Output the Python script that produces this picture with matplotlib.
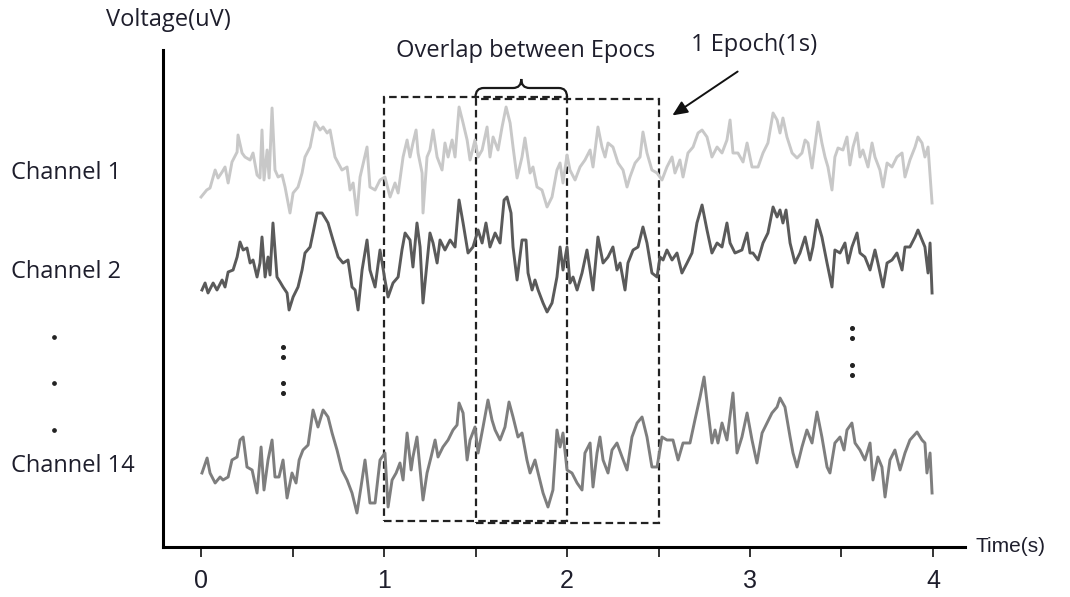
import matplotlib.pyplot as plt
from matplotlib.path import Path
from matplotlib.patches import PathPatch, Rectangle

# time stamps (s) and voltages (uV) of the traced samples, per channel
ch1_t = [0.000, 0.031, 0.049, 0.077, 0.093, 0.115, 0.131, 0.148, 0.169, 0.197,
         0.202, 0.224, 0.240, 0.268, 0.284, 0.306, 0.322, 0.333, 0.344, 0.361,
         0.372, 0.388, 0.404, 0.421, 0.443, 0.459, 0.486, 0.503, 0.530, 0.552,
         0.568, 0.596, 0.623, 0.650, 0.667, 0.689, 0.705, 0.732, 0.770, 0.798,
         0.814, 0.831, 0.852, 0.869, 0.907, 0.923, 0.951, 0.978, 1.005, 1.033,
         1.060, 1.077, 1.104, 1.126, 1.142, 1.158, 1.175, 1.186, 1.208, 1.213,
         1.235, 1.251, 1.268, 1.290, 1.317, 1.333, 1.350, 1.372, 1.388, 1.410,
         1.432, 1.454, 1.470, 1.497, 1.514, 1.536, 1.563, 1.579, 1.596, 1.623,
         1.645, 1.667, 1.689, 1.705, 1.727, 1.754, 1.770, 1.798, 1.814, 1.836,
         1.863, 1.891, 1.918, 1.945, 1.962, 1.978, 2.000, 2.016,
         2.044, 2.071, 2.098, 2.126, 2.142, 2.169, 2.191, 2.208, 2.224, 2.251,
         2.279, 2.306, 2.328, 2.344, 2.372, 2.399, 2.415, 2.437, 2.464, 2.492,
         2.519, 2.546, 2.574, 2.590, 2.617, 2.634, 2.661, 2.689, 2.716, 2.738,
         2.765, 2.792, 2.820, 2.847, 2.874, 2.891, 2.907, 2.934, 2.962, 2.984,
         3.011, 3.044, 3.071, 3.098, 3.126, 3.148, 3.164, 3.180, 3.202, 3.230,
         3.257, 3.284, 3.301, 3.317, 3.339, 3.372, 3.393, 3.410, 3.426, 3.448,
         3.464, 3.481, 3.508, 3.530, 3.546, 3.563, 3.585, 3.601, 3.617, 3.645,
         3.667, 3.683, 3.710, 3.727, 3.749, 3.776, 3.803, 3.831, 3.847, 3.874,
         3.902, 3.918, 3.940, 3.956, 3.973, 3.995]
ch1_uv = [-32, -25, -23, -5, -13, -7, -2, -18, 3, 13,
          30, 12, 8, 5, 12, -10, -13, 35, -15, 15,
          -13, 57, -5, -12, -10, -22, -48, -28, -22, -8,
          8, 18, 43, 35, 38, 32, 35, 8, -5, -2,
          -25, -18, -50, -12, 18, -22, -25, -15, -12, -32,
          -18, -28, 8, 25, 8, 22, 35, 12, -8, -48,
          8, 15, 35, 8, -5, 22, 8, 25, 8, 58,
          42, 25, 5, 25, 8, 15, 38, 8, 28, 15,
          38, 58, 42, 18, -13, 8, 27, -8, -2, -22,
          -25, -42, -32, -5, 2, -18, 10, -5,
          -15, -2, 5, 15, -2, 38, 18, 8, 22, 18,
          2, -5, -22, -12, 2, 8, 33, 12, -5, -8,
          -15, -2, 8, -8, 5, -12, 12, 18, 32, 35,
          28, 8, 18, 12, 25, 45, 12, 12, 3, 22,
          -2, -2, 12, 22, 52, 45, 32, 47, 28, 12,
          7, 12, 25, 22, -3, 43, 22, 8, -2, -25,
          8, 17, 15, 28, 0, 18, 32, 8, 15, -2,
          22, 8, -5, -22, 2, -2, 8, 12, -12, 5,
          18, 28, 22, 8, 18, -38]

ch2_t = [0.005, 0.022, 0.038, 0.066, 0.087, 0.115, 0.131, 0.148, 0.175, 0.197,
         0.213, 0.230, 0.251, 0.268, 0.284, 0.306, 0.322, 0.333, 0.350, 0.366,
         0.377, 0.393, 0.415, 0.432, 0.448, 0.470, 0.481, 0.503, 0.530, 0.552,
         0.568, 0.596, 0.612, 0.634, 0.661, 0.678, 0.694, 0.721, 0.749, 0.776,
         0.803, 0.825, 0.842, 0.858, 0.880, 0.907, 0.923, 0.951, 0.978, 1.005,
         1.022, 1.049, 1.077, 1.098, 1.115, 1.142, 1.158, 1.180, 1.197, 1.213,
         1.235, 1.251, 1.268, 1.290, 1.306, 1.333, 1.361, 1.388, 1.410, 1.432,
         1.459, 1.486, 1.514, 1.536, 1.557, 1.579, 1.607, 1.634, 1.656, 1.672,
         1.694, 1.705, 1.727, 1.754, 1.776, 1.787, 1.809, 1.825, 1.842, 1.869,
         1.891, 1.918, 1.945, 1.962, 1.978, 2.000, 2.016, 2.033, 2.055, 2.082,
         2.109, 2.126, 2.142, 2.169, 2.197, 2.224, 2.251, 2.273, 2.290, 2.317,
         2.333, 2.361, 2.388, 2.415, 2.437, 2.464, 2.492, 2.508, 2.525, 2.546,
         2.574, 2.601, 2.628, 2.656, 2.683, 2.710, 2.738, 2.765, 2.792, 2.820,
         2.847, 2.874, 2.891, 2.918, 2.956, 2.984, 3.000, 3.016, 3.044, 3.071,
         3.098, 3.126, 3.148, 3.164, 3.180, 3.197, 3.219, 3.246, 3.273, 3.301,
         3.328, 3.344, 3.366, 3.393, 3.421, 3.448, 3.464, 3.492, 3.519, 3.536,
         3.557, 3.585, 3.601, 3.628, 3.656, 3.683, 3.699, 3.727, 3.749, 3.776,
         3.803, 3.831, 3.847, 3.874, 3.902, 3.918, 3.940, 3.956, 3.973, 3.984,
         3.995]
ch2_uv = [-25, -18, -28, -18, -25, -15, -22, -7, -5, 8,
          23, 15, 17, 2, 5, -12, 2, 28, -12, 8,
          -10, 42, -12, -17, -22, -28, -45, -32, -22, -5,
          12, 18, 32, 52, 52, 47, 42, 25, 8, 2,
          5, -22, -25, -45, -5, 25, -5, -22, 15, -15,
          -32, -18, -12, 15, 32, 25, -2, 42, 18, -38,
          2, 32, 22, 2, 25, 15, 25, 18, 65, 42,
          12, 18, 35, 22, 42, 18, 32, 22, 65, 68,
          52, 18, -15, 25, 25, -8, -25, -15, -25, -38,
          -47, -38, -12, 18, -5, 18, -18, -12, -25, -8,
          15, -5, -25, 28, 2, 8, 18, -5, 2, -25,
          2, 15, 18, 38, 22, -8, -12, 8, 5, 15,
          5, 12, -8, 2, 12, 42, 60, 35, 12, 22,
          18, 42, 22, 12, 15, 32, 12, 12, 5, 22,
          32, 58, 48, 55, 42, 55, 22, 2, 12, 28,
          5, 18, 45, 28, 2, -22, 15, 12, 22, 2,
          18, 32, 12, 8, -5, 15, 2, -22, 2, 5,
          12, -5, 18, 18, 28, 35, 25, 18, -8, 22,
          -28]

ch14_t = [0.005, 0.033, 0.049, 0.077, 0.104, 0.120, 0.148, 0.169, 0.197, 0.213,
          0.230, 0.251, 0.279, 0.306, 0.328, 0.344, 0.366, 0.388, 0.404, 0.426,
          0.448, 0.470, 0.497, 0.519, 0.536, 0.557, 0.585, 0.612, 0.639, 0.667,
          0.694, 0.716, 0.743, 0.770, 0.798, 0.825, 0.852, 0.874, 0.896, 0.923,
          0.951, 0.978, 1.005, 1.022, 1.044, 1.066, 1.087, 1.104, 1.126, 1.148,
          1.158, 1.180, 1.197, 1.213, 1.235, 1.257, 1.279, 1.295, 1.322, 1.350,
          1.377, 1.399, 1.410, 1.432, 1.454, 1.470, 1.497, 1.514, 1.541, 1.568,
          1.590, 1.607, 1.634, 1.661, 1.683, 1.705, 1.732, 1.754, 1.781, 1.798,
          1.825, 1.842, 1.869, 1.896, 1.923, 1.945, 1.962, 1.978, 2.000, 2.027,
          2.055, 2.082, 2.098, 2.126, 2.142, 2.164, 2.180, 2.197, 2.224, 2.246,
          2.273, 2.301, 2.328, 2.355, 2.383, 2.410, 2.437, 2.464, 2.492, 2.519,
          2.546, 2.579, 2.607, 2.634, 2.672, 2.699, 2.727, 2.749, 2.770, 2.792,
          2.809, 2.825, 2.847, 2.874, 2.907, 2.929, 2.956, 2.984, 3.011, 3.038,
          3.066, 3.093, 3.120, 3.148, 3.164, 3.191, 3.219, 3.235, 3.257, 3.284,
          3.311, 3.339, 3.366, 3.393, 3.421, 3.437, 3.464, 3.492, 3.514, 3.530,
          3.557, 3.574, 3.601, 3.628, 3.656, 3.672, 3.699, 3.721, 3.738, 3.765,
          3.792, 3.820, 3.847, 3.874, 3.913, 3.940, 3.956, 3.967, 3.984, 3.995]
ch14_uv = [-18, -3, -18, -28, -22, -25, -22, -5, -2, 15,
           18, -12, -15, -38, 8, -35, -5, 15, -22, -22,
           -5, -43, -18, -28, -5, 5, 10, 45, 28, 45,
           38, 22, 5, -15, -25, -38, -58, -32, -5, -48,
           -48, -5, 2, -52, -25, -18, -8, -25, 22, -15,
           -2, 18, -15, -45, -18, -2, 15, -2, 8, 15,
           25, 30, 52, 42, -5, 15, 28, 2, 28, 55,
           35, 25, 15, 28, 53, 38, 18, 22, -5, -18,
           -5, -18, -38, -52, -35, 25, 8, 22, -15, -18,
           -28, -35, 2, 12, -32, 2, 18, -5, -18, 5,
           12, -2, -15, 18, 32, 38, 18, -12, -12, 18,
           15, 15, -5, 12, 12, 35, 58, 78, 45, 12,
           25, 12, 32, 15, 62, 2, 18, 42, 15, -8,
           22, 32, 42, 48, 57, 48, 18, 2, -12, 8,
           25, 12, 43, 18, -12, -18, 12, 18, 5, 25,
           32, 12, 5, -5, 12, -25, -2, -12, -42, -5,
           5, -15, 2, 15, 23, 15, 12, -18, 2, -38]

channel_names = ['Channel 1', 'Channel 2', 'Channel 14']
channel_offsets = [382, 282, 92]          # baseline of each trace on the shared axis (uV)
channel_colors = ['#c8c8c8', '#5a5a5a', '#7e7e7e']

epoch_starts = [1.0, 1.5]                 # two 1 s windows, 50 % overlap
epoch_len = 1.0

txt_color = '#1e1e2c'
txt_size = 17
plt.rcParams['font.family'] = ['Open Sans', 'DejaVu Sans']
narrow = ['Liberation Sans Narrow', 'Liberation Sans', 'DejaVu Sans']

fig = plt.figure(figsize=(10.7, 5.97), dpi=100)
ax = fig.add_axes([163 / 1070, 50 / 597, 802 / 1070, 497 / 597])
ax.set_xlim(-0.208, 4.175)
ax.set_ylim(0, 497)

traces = [(ch1_t, ch1_uv), (ch2_t, ch2_uv), (ch14_t, ch14_uv)]
for (t, uv), off, col in zip(traces, channel_offsets, channel_colors):
    ax.plot(t, [v + off for v in uv], color=col, lw=2.1, solid_joinstyle='round')

# epoch windows
box_edges = [(26, 450), (24, 448)]
for start, (lo, hi) in zip(epoch_starts, box_edges):
    ax.add_patch(Rectangle((start, lo), epoch_len, hi - lo, fill=False,
                           ec='#222222', lw=1.6, ls=(0, (3.4, 1.9))))

# curly brace over the overlapping part
a, b = epoch_starts[1], epoch_starts[0] + epoch_len
m, d = (a + b) / 2, 0.045
y0, y1, y2 = 450, 459, 468
verts = [(a, y0), (a, y1), (a + d, y1), (m - d, y1), (m, y1), (m, y2),
         (m, y1), (m + d, y1), (b - d, y1), (b, y1), (b, y0)]
codes = [Path.MOVETO, Path.CURVE3, Path.CURVE3, Path.LINETO, Path.CURVE3, Path.CURVE3,
         Path.CURVE3, Path.CURVE3, Path.LINETO, Path.CURVE3, Path.CURVE3]
ax.add_patch(PathPatch(Path(verts, codes), fill=False, lw=1.6, ec='#1a1a1a',
                       clip_on=False))

ax.text(1.776, 496, 'Overlap between Epocs', ha='center', va='center',
        fontsize=txt_size, color=txt_color)
ax.text(3.022, 502, '1 Epoch(1s)', ha='center', va='center',
        fontsize=txt_size, color=txt_color)
ax.annotate('', xy=(2.563, 430), xytext=(2.945, 477),
            arrowprops=dict(arrowstyle='-|>,head_length=0.9,head_width=0.4',
                            lw=1.4, color='#111111'))

# vertical ellipsis for the channels left out
ax.plot([0.448] * 4, [200, 190, 164, 154], 'o', ms=2.6, color='#222222')
ax.plot([3.557] * 4, [219, 209, 182, 172], 'o', ms=2.6, color='#222222')
ax.plot([-0.803] * 3, [210, 164, 117], 'o', ms=2.4, color='#222222', clip_on=False)

label_y = [173, 272, 466]
for name, yy in zip(channel_names, label_y):
    fig.text(11 / 1070, 1 - yy / 597, name, ha='left', va='center',
             fontsize=txt_size, color=txt_color)

fig.text(168 / 1070, 1 - 20 / 597, 'Voltage(uV)', ha='center', va='center',
         fontsize=txt_size, color=txt_color)
fig.text(975 / 1070, 1 - 547 / 597, 'Time(s)', ha='left', va='center',
         fontsize=15, color=txt_color, family=narrow)

for side in ['top', 'right']:
    ax.spines[side].set_visible(False)
for side in ['left', 'bottom']:
    ax.spines[side].set_linewidth(2.2)
    ax.spines[side].set_color('black')

ax.set_yticks([])
ax.set_xticks([0, 1, 2, 3, 4])
ax.set_xticks([0.5, 1.5, 2.5, 3.5], minor=True)
ax.tick_params(axis='x', which='both', direction='out', length=7, width=1.4,
               color='#333333')
ax.tick_params(axis='x', which='major', pad=9, labelsize=18)
for lab in ax.get_xticklabels():
    lab.set_family(narrow)
    lab.set_color(txt_color)

fig.savefig('out.png', dpi=100, facecolor='white')
